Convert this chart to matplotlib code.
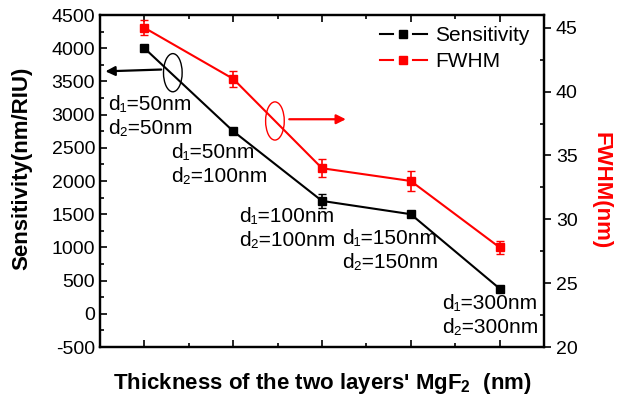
import matplotlib
matplotlib.use("Agg")
import matplotlib.pyplot as plt
from matplotlib.patches import Ellipse
from matplotlib.lines import Line2D
from matplotlib.legend_handler import HandlerBase

plt.rcParams['font.family'] = ['Liberation Sans', 'DejaVu Sans']
plt.rcParams['mathtext.fontset'] = 'custom'
plt.rcParams['mathtext.rm'] = 'Liberation Sans'
plt.rcParams['mathtext.bf'] = 'Liberation Sans:bold'
plt.rcParams['axes.unicode_minus'] = False

positions = [1, 2, 3, 4, 5]
sensitivity = [4000, 2750, 1700, 1500, 380]
sens_err = [0, 0, 100, 0, 0]
fwhm = [45, 41, 34, 33, 27.8]
fwhm_err = [0.6, 0.6, 0.7, 0.75, 0.5]
labels_d1 = ["d₁=50nm", "d₁=50nm", "d₁=100nm", "d₁=150nm", "d₁=300nm"]
labels_d2 = ["d₂=50nm", "d₂=100nm", "d₂=100nm", "d₂=150nm", "d₂=300nm"]
label_pos = [(0.59, 3145), (1.30, 2422), (2.065, 1458), (3.225, 1127), (4.35, 148)]

fig = plt.figure(figsize=(6.17, 3.96), dpi=100)
ax = fig.add_axes([100/617, 1-347/396, 444/617, 332/396])
ax2 = ax.twinx()

ax.errorbar(positions, sensitivity, yerr=sens_err, color='black', marker='s',
            markersize=5.5, lw=1.5, capsize=3, elinewidth=1.2)
ax2.errorbar(positions, fwhm, yerr=fwhm_err, color='red', marker='s',
             markersize=5.5, lw=1.5, capsize=3, elinewidth=1.2)

ax.set_xlim(0.5, 5.5)
ax.set_ylim(-500, 4500)
ax2.set_ylim(20, 46)
ax.set_xticks(positions)
ax.set_xticks([1.5, 2.5, 3.5, 4.5], minor=True)
ax.set_xticklabels([])
ax.set_yticks(range(-500, 4501, 500))
ax.set_yticks(range(-250, 4500, 500), minor=True)
ax2.set_yticks([20, 25, 30, 35, 40, 45])
ax2.set_yticks([22.5, 27.5, 32.5, 37.5, 42.5], minor=True)

ax.tick_params(axis='x', which='both', direction='in', top=True, bottom=True)
ax.tick_params(axis='x', which='major', length=5, width=1.2)
ax.tick_params(axis='x', which='minor', length=3, width=1.2)
ax.tick_params(axis='y', which='major', direction='in', length=5, width=1.2, labelsize=14)
ax.tick_params(axis='y', which='minor', direction='in', length=3, width=1.2)
ax2.tick_params(axis='y', which='major', direction='out', length=5, width=1.2, labelsize=14)
ax2.tick_params(axis='y', which='minor', direction='in', length=3, width=1.2)
for a in (ax, ax2):
    for s in a.spines.values():
        s.set_linewidth(1.6)

ax.set_ylabel('Sensitivity(nm/RIU)', fontsize=16, fontweight='bold')
ax.yaxis.set_label_coords(-0.153, 0.539)
ax2.set_ylabel('FWHM(nm)', fontsize=16, fontweight='bold', color='red', rotation=270)
ax2.yaxis.set_label_coords(1.153, 0.47)
ax.set_xlabel("Thickness of the two layers' MgF$_\\mathbf{2}$  (nm)", fontsize=16, fontweight='bold', labelpad=14)

for (x, y), t1, t2 in zip(label_pos, labels_d1, labels_d2):
    ax.text(x, y, t1, fontsize=15, ha='left', va='center')
    ax.text(x, y - 355, t2, fontsize=15, ha='left', va='center')

ax.add_patch(Ellipse((1.32, 3631), 0.21, 575, fill=False, edgecolor='black', lw=1.0))
ax.annotate('', xy=(0.53, 3650), xytext=(1.22, 3680),
            arrowprops=dict(arrowstyle='-|>', color='black', lw=1.6, mutation_scale=14))
ax.add_patch(Ellipse((2.47, 2904), 0.21, 575, fill=False, edgecolor='red', lw=1.0))
ax.annotate('', xy=(3.3, 2930), xytext=(2.6, 2930),
            arrowprops=dict(arrowstyle='-|>', color='red', lw=1.6, mutation_scale=14))


class OriginHandler(HandlerBase):
    def create_artists(self, legend, orig_handle, xdescent, ydescent, width,
                       height, fontsize, trans):
        c = orig_handle.get_color()
        y = height / 2 - ydescent
        x0 = -xdescent
        seg = width * 0.29
        a1 = Line2D([x0, x0 + seg], [y, y], color=c, lw=1.5)
        a2 = Line2D([x0 + width - seg, x0 + width], [y, y], color=c, lw=1.5)
        m = Line2D([x0 + width / 2], [y], color=c, marker='s', markersize=5.5, linestyle='none')
        for a in (a1, a2, m):
            a.set_transform(trans)
        return [a1, a2, m]


h1 = Line2D([], [], color='black')
h2 = Line2D([], [], color='red')
ax.legend([h1, h2], ['Sensitivity', 'FWHM'],
          handler_map={Line2D: OriginHandler()},
          loc='upper right', frameon=False, fontsize=15, handlelength=2.25,
          handletextpad=0.4, labelspacing=0.35, borderaxespad=0.2,
          bbox_to_anchor=(0.995, 1.005))

fig.savefig('out.png', dpi=100)
